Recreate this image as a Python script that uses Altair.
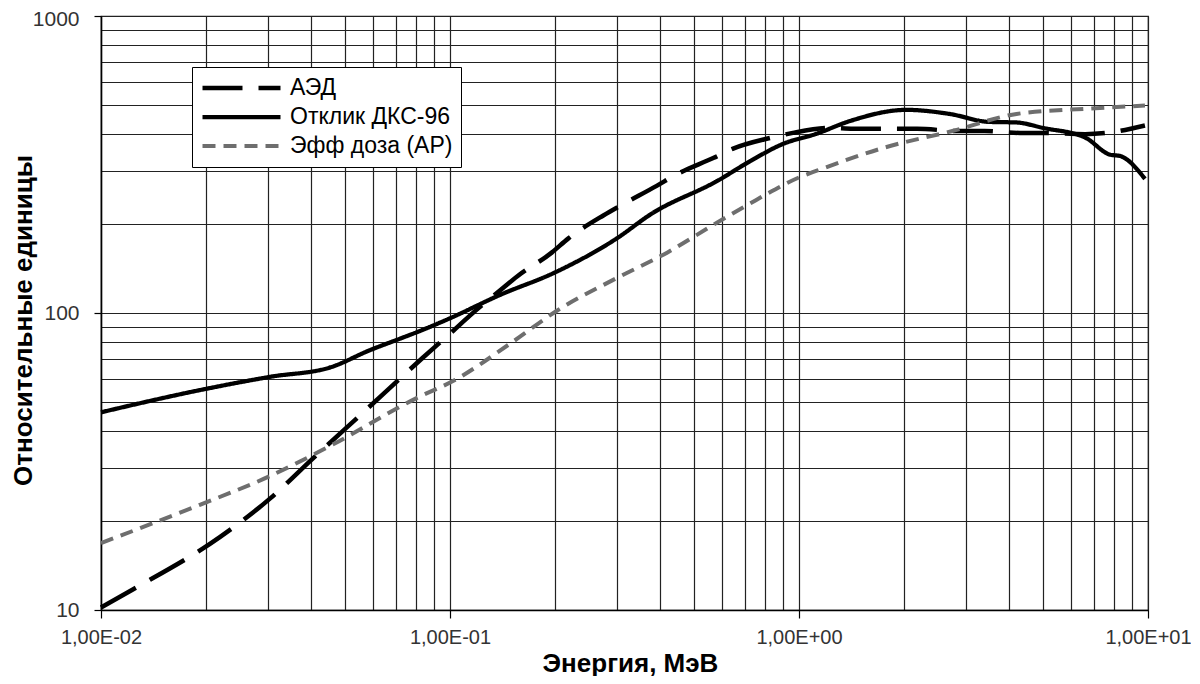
import altair as alt
import pandas as pd

# --- data ---
series_names = ["АЭД", "Отклик ДКС-96", "Эфф доза (АР)"]

E_aed = [0.01, 0.0123, 0.0219, 0.0306, 0.0405, 0.056, 0.0837, 0.102, 0.114, 0.139, 0.156, 0.196,
         0.218, 0.275, 0.308, 0.391, 0.444, 0.57, 0.645, 0.83, 0.96, 1.23, 1.43, 1.91, 2.18, 2.85,
         3.4, 4.3, 5.0, 6.6, 7.6, 9.8]
V_aed = [10.2, 11.7, 17.6, 23.8, 32.4, 45.9, 70.8, 87, 98, 119, 133, 160,
         178, 213, 230, 268, 292, 333, 357, 389, 404, 420, 417, 417, 417, 410,
         410, 404, 404, 400, 404, 428]

E_dks = [0.01, 0.0192, 0.0306, 0.0454, 0.059, 0.072, 0.082, 0.1, 0.139, 0.2, 0.302, 0.376,
         0.585, 0.726, 0.9, 1.12, 1.4, 2.03, 2.7, 3.5, 4.2, 5.0, 6.6, 7.8, 8.3, 9.8]
V_dks = [46.3, 55, 61, 65.6, 75, 82, 87, 96, 115, 137, 179, 215,
         279, 325, 371, 401, 443, 483, 468, 440, 438, 420, 390, 341, 338, 283]

E_eff = [0.01, 0.0192, 0.03, 0.046, 0.081, 0.102, 0.149, 0.203, 0.30, 0.42, 0.58, 0.73,
         0.81, 1.0, 1.13, 1.75, 2.75, 4.2, 6.6, 9.3, 9.8]
V_eff = [16.8, 22.6, 28, 36, 52, 59, 79, 102, 131, 160, 201, 235,
         252, 286, 302, 360, 410, 468, 487, 498, 500]

x_grid = [0.01, 0.02, 0.03, 0.04, 0.05, 0.06, 0.07, 0.08, 0.09,
          0.1, 0.2, 0.3, 0.4, 0.5, 0.6, 0.7, 0.8, 0.9,
          1, 2, 3, 4, 5, 6, 7, 8, 9, 10]
y_grid = [10, 20, 30, 40, 50, 60, 70, 80, 90,
          100, 200, 300, 400, 500, 600, 700, 800, 900, 1000]
x_label_values = [0.01, 0.1, 1, 10]
x_label_texts = ["1,00E-02", "1,00E-01", "1,00E+00", "1,00E+01"]
y_label_values = [10, 100, 1000]
y_label_texts = ["10", "100", "1000"]

rows = []
for name, es, vs in zip(series_names, [E_aed, E_dks, E_eff], [V_aed, V_dks, V_eff]):
    for i, (e, v) in enumerate(zip(es, vs)):
        rows.append({"series": name, "E": e, "V": v, "i": i})
df = pd.DataFrame(rows)


def is_in(vals):
    return " || ".join(f"abs(datum.value - {v}) < {v}*1e-6" for v in vals)


def label_expr(vals, texts):
    expr = "''"
    for v, t in reversed(list(zip(vals, texts))):
        expr = f"abs(datum.value - {v}) < {v}*1e-6 ? '{t}' : ({expr})"
    return expr


def tick_cond(vals):
    return {"condition": {"test": is_in(vals), "value": "black"}, "value": "transparent"}


FONT = "Liberation Sans"

x_axis = alt.Axis(
    values=x_grid, grid=True, gridColor="#222", gridWidth=1.2, gridOpacity=1,
    labelExpr=label_expr(x_label_values, x_label_texts),
    tickColor=tick_cond(x_label_values), tickSize=8, tickWidth=1.2,
    domainColor="black", domainWidth=1.5,
    labelFont=FONT, labelFontSize=20, labelColor="#333", labelPadding=9,
    labelFlush=False, labelOverlap=False,
    title="Энергия, МэВ", titleFont=FONT, titleFontSize=26,
    titleFontWeight="bold", titleColor="black",
    titleX=529, titleY=61, titleBaseline="alphabetic", titleAlign="center",
)
y_axis = alt.Axis(
    values=y_grid, grid=True, gridColor="#222", gridWidth=1.2, gridOpacity=1,
    labelExpr=label_expr(y_label_values, y_label_texts),
    labelOffset={"condition": {"test": is_in([max(y_label_values)]), "value": 3}, "value": 0},
    tickColor=tick_cond(y_label_values), tickSize=7, tickWidth=1.2,
    domainColor="black", domainWidth=1.5,
    labelFont=FONT, labelFontSize=21, labelColor="#333", labelPadding=15,
    labelFlush=False, labelOverlap=False,
    title="Относительные единицы", titleFont=FONT, titleFontSize=26,
    titleFontWeight="bold", titleColor="black",
    titleX=-70, titleY=304, titleAngle=270, titleBaseline="alphabetic", titleAlign="center",
)

chart = alt.Chart(df).mark_line(strokeCap="butt", strokeJoin="round", interpolate="monotone").encode(
    x=alt.X("E:Q", scale=alt.Scale(type="log", domain=[0.01, 10], nice=False), axis=x_axis),
    y=alt.Y("V:Q", scale=alt.Scale(type="log", domain=[10, 1000], nice=False), axis=y_axis),
    color=alt.Color("series:N", scale=alt.Scale(domain=series_names,
                                                range=["black", "black", "#6e6e6e"]),
                    legend=alt.Legend(title=None, orient="none", legendX=91, legendY=51,
                                      symbolType="stroke", symbolSize=6084,
                                      symbolStrokeWidth=4.5, clipHeight=26, rowPadding=3,
                                      labelFont=FONT, labelFontSize=23, labelLimit=400,
                                      labelColor="black", labelOffset=7,
                                      fillColor="white", strokeColor="black", padding=8)),
    strokeDash=alt.StrokeDash("series:N", scale=alt.Scale(domain=series_names,
                                                          range=[[40, 16], [1, 0], [13, 8]]),
                              legend=None),
    strokeWidth=alt.StrokeWidth("series:N", scale=alt.Scale(domain=series_names,
                                                            range=[4.5, 4, 4.5]),
                                legend=None),
    order="i:Q",
).properties(
    width=1047, height=594,
    autosize=alt.AutoSizeParams(type="none"),
    padding={"left": 93, "top": 8, "right": 43, "bottom": 66},
).configure_view(stroke="#222", strokeWidth=1.2)

chart.save("out.html", embed_options={"renderer": "svg", "actions": False})
